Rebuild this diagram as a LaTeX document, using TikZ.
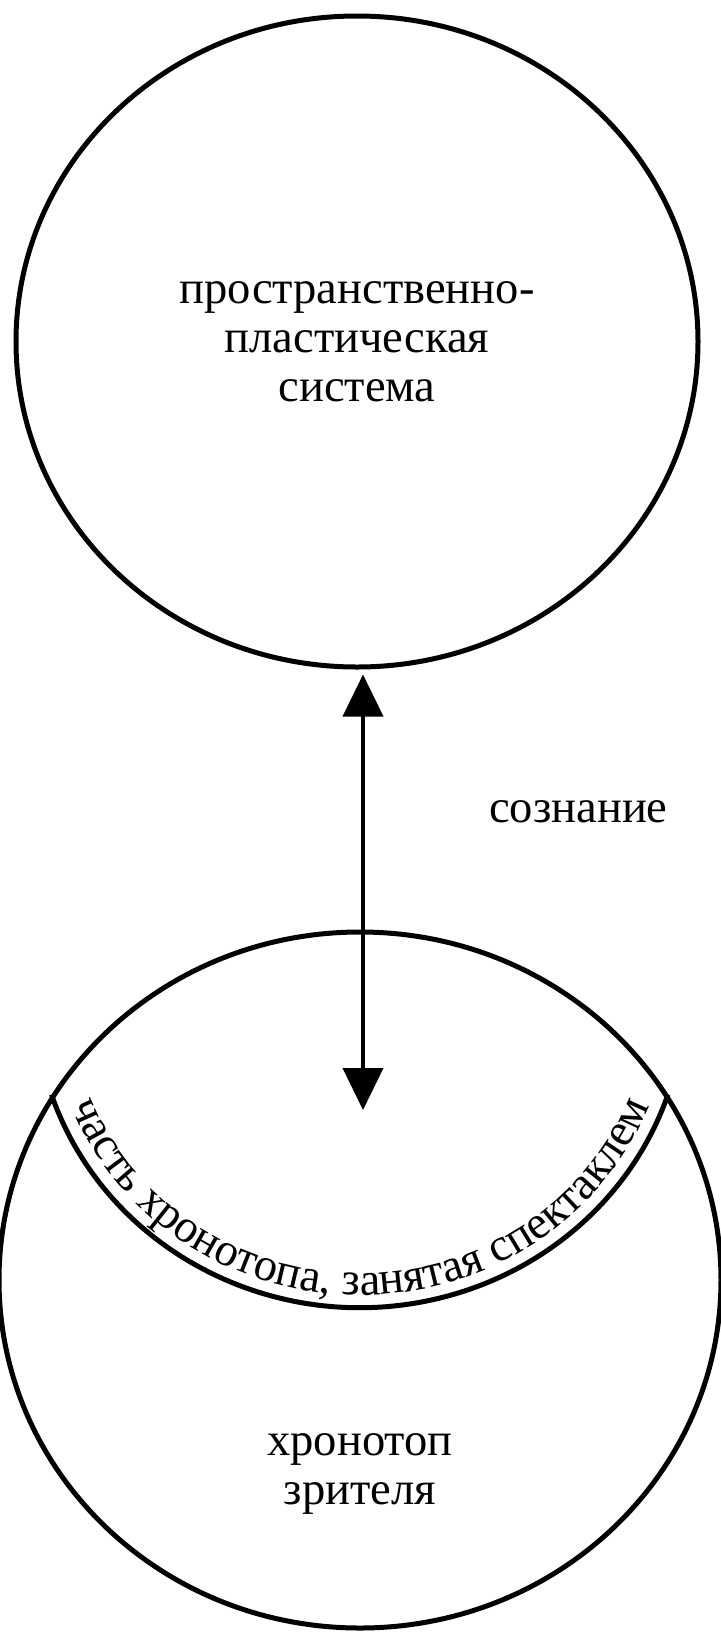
\documentclass[tikz,border=0pt]{standalone}
\usepackage{fontspec}
\setmainfont{Liberation Serif}
\usetikzlibrary{positioning, arrows.meta, shapes.geometric, decorations.text, calc}

\begin{document}
\begin{tikzpicture}[
  rim/.style={draw, line width=0.1cm},
  zone/.style={ellipse, rim, inner sep=0pt, align=center, font=\fontsize{26.5pt}{27.9pt}\selectfont},
  word/.style={align=center, font=\fontsize{26.5pt}{27.9pt}\selectfont},
  duplex/.style={{Triangle[length=0.84cm,width=0.8cm]}-{Triangle[length=0.84cm,width=0.8cm]}, line width=0.08cm}
]
  \useasboundingbox (0,0) rectangle (14.4,-32.64);
  \node[zone, minimum width=13.64cm, minimum height=13.02cm] (sys) at (7.14,-6.83) {пространственно-\\пластическая\\система};
  \node[zone, minimum width=14.44cm, minimum height=13.92cm] (view) at (7.2,-25.6) {};
  \node[word] (chrono) at (7.2,-29.48) {хронотоп\\зрителя};
  \coordinate (tip) at (7.26,-22.2);
  \coordinate (stage) at (7.2,-19.96);
  \node[word, anchor=base west] (aware) at (9.66,-16.44) {сознание};

  \draw[duplex, shorten <=0.1cm] (sys.south -| tip) -- (tip);
  % the part of the chronotope taken by the play
  \draw[rim] (view.149.3) arc[start angle=198.5, end angle=341.5, x radius=6.5cm, y radius=6.24cm];
  \path[decorate, decoration={text along path, text align=center,
    text={|\fontsize{26.5pt}{27.9pt}\selectfont|часть хронотопа, занятая спектаклем}}]
    ($(stage)+(197:6.2cm and 5.94cm)$) arc[start angle=197, end angle=343, x radius=6.2cm, y radius=5.94cm];
\end{tikzpicture}
\end{document}
